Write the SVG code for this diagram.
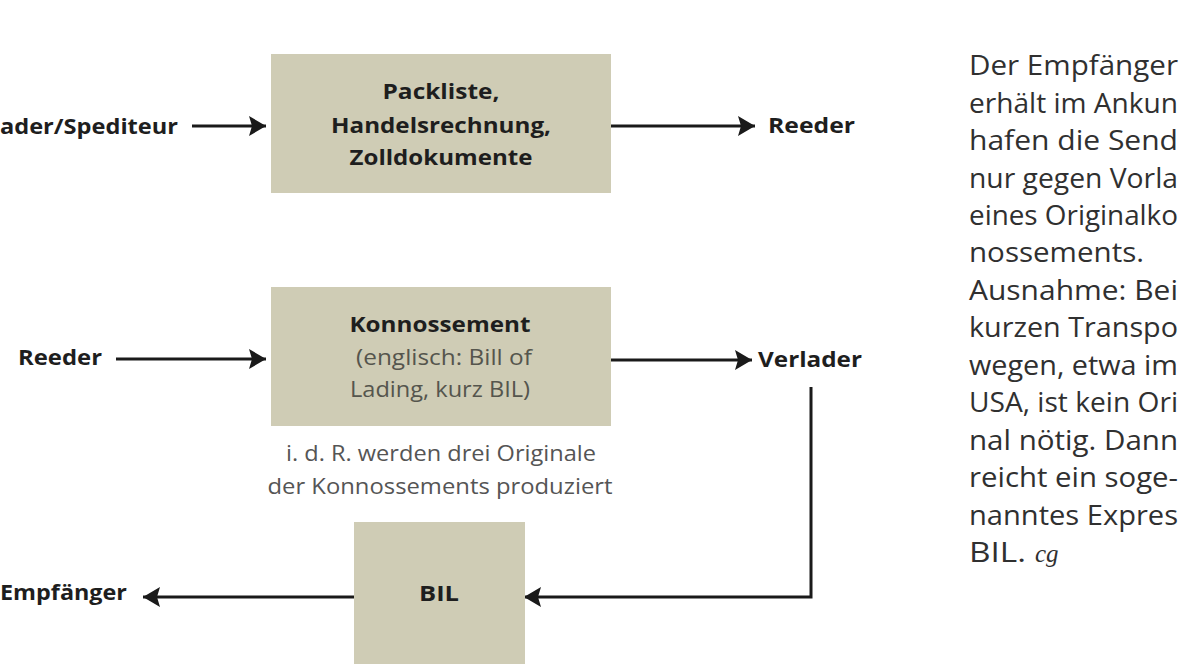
<svg xmlns="http://www.w3.org/2000/svg" width="1180" height="664" viewBox="0 0 1180 664">
<style>
.box{fill:#cfccb5;}
.b{font-family:"Open Sans","Noto Sans",sans-serif;font-weight:bold;font-size:21px;fill:#1e1e1e;}
.r{font-family:"Open Sans","Noto Sans",sans-serif;font-size:21px;fill:#55554d;}
.cap{font-family:"Open Sans","Noto Sans",sans-serif;font-size:21px;fill:#555;}
.side{font-family:"Open Sans","Noto Sans",sans-serif;font-size:27px;fill:#303030;}
.line{stroke:#1a1a1a;stroke-width:3;fill:none;}
</style>
<defs>
<marker id="ah" markerUnits="userSpaceOnUse" markerWidth="20" markerHeight="24" refX="17" refY="12" orient="auto">
<path d="M0,2 L17,12 L0,22 L3,12 Z" fill="#1a1a1a"/>
</marker>
</defs>
<rect width="1180" height="664" fill="#ffffff"/>
<g id="connectors">
<line class="line" x1="192" y1="126" x2="266" y2="126" marker-end="url(#ah)"/>
<line class="line" x1="611" y1="126" x2="755" y2="126" marker-end="url(#ah)"/>
<line class="line" x1="116" y1="359" x2="266" y2="359" marker-end="url(#ah)"/>
<line class="line" x1="611" y1="360" x2="752" y2="360" marker-end="url(#ah)"/>
<polyline class="line" points="811,387 811,597 524,597" marker-end="url(#ah)"/>
<line class="line" x1="354" y1="597" x2="143" y2="597" marker-end="url(#ah)"/>
</g>
<g id="node-verlader-spediteur">
<text class="b" x="0" y="134" textLength="178" lengthAdjust="spacingAndGlyphs">ader/Spediteur</text>
</g>
<g id="node-dokumente">
<rect class="box" x="271" y="54" width="340" height="139"/>
<text class="b" x="441" y="99" text-anchor="middle" textLength="117" lengthAdjust="spacingAndGlyphs">Packliste,</text>
<text class="b" x="441" y="133" text-anchor="middle" textLength="220" lengthAdjust="spacingAndGlyphs">Handelsrechnung,</text>
<text class="b" x="441" y="165" text-anchor="middle" textLength="183" lengthAdjust="spacingAndGlyphs">Zolldokumente</text>
</g>
<g id="node-reeder-1">
<text class="b" x="768" y="133" textLength="87" lengthAdjust="spacingAndGlyphs">Reeder</text>
</g>
<g id="node-reeder-2">
<text class="b" x="18" y="365" textLength="84" lengthAdjust="spacingAndGlyphs">Reeder</text>
</g>
<g id="node-konnossement">
<rect class="box" x="271" y="287" width="340" height="139"/>
<text class="b" x="440" y="332" text-anchor="middle" textLength="181" lengthAdjust="spacingAndGlyphs">Konnossement</text>
<text class="r" x="444" y="365" text-anchor="middle" textLength="176" lengthAdjust="spacingAndGlyphs">(englisch: Bill of</text>
<text class="r" x="440" y="397" text-anchor="middle" textLength="180" lengthAdjust="spacingAndGlyphs">Lading, kurz BIL)</text>
</g>
<g id="caption-konnossement">
<text class="cap" x="441" y="461" text-anchor="middle" textLength="310" lengthAdjust="spacingAndGlyphs">i. d. R. werden drei Originale</text>
<text class="cap" x="440" y="494" text-anchor="middle" textLength="345" lengthAdjust="spacingAndGlyphs">der Konnossements produziert</text>
</g>
<g id="node-verlader">
<text class="b" x="758" y="367" textLength="104" lengthAdjust="spacingAndGlyphs">Verlader</text>
</g>
<g id="node-bil">
<rect class="box" x="354" y="522" width="171" height="142"/>
<text class="b" x="439" y="601" text-anchor="middle" textLength="40" lengthAdjust="spacingAndGlyphs">BIL</text>
</g>
<g id="node-empfaenger">
<text class="b" x="0" y="600" textLength="127" lengthAdjust="spacingAndGlyphs">Empfänger</text>
</g>
<g id="sidebar">
<text class="side" x="969" y="75" textLength="209" lengthAdjust="spacingAndGlyphs">Der Empfänger</text>
<text class="side" x="969" y="112.5" textLength="209" lengthAdjust="spacingAndGlyphs">erhält im Ankun</text>
<text class="side" x="969" y="150" textLength="209" lengthAdjust="spacingAndGlyphs">hafen die Send</text>
<text class="side" x="969" y="187.5" textLength="209" lengthAdjust="spacingAndGlyphs">nur gegen Vorla</text>
<text class="side" x="969" y="225" textLength="209" lengthAdjust="spacingAndGlyphs">eines Originalko</text>
<text class="side" x="969" y="262" textLength="175" lengthAdjust="spacingAndGlyphs">nossements.</text>
<text class="side" x="969" y="300" textLength="209" lengthAdjust="spacingAndGlyphs">Ausnahme: Bei</text>
<text class="side" x="969" y="337" textLength="209" lengthAdjust="spacingAndGlyphs">kurzen Transpo</text>
<text class="side" x="969" y="375" textLength="209" lengthAdjust="spacingAndGlyphs">wegen, etwa im</text>
<text class="side" x="969" y="412" textLength="209" lengthAdjust="spacingAndGlyphs">USA, ist kein Ori</text>
<text class="side" x="969" y="450" textLength="209" lengthAdjust="spacingAndGlyphs">nal nötig. Dann</text>
<text class="side" x="969" y="487" textLength="209" lengthAdjust="spacingAndGlyphs">reicht ein soge-</text>
<text class="side" x="969" y="525" textLength="209" lengthAdjust="spacingAndGlyphs">nanntes Expres</text>
<text class="side" x="969" y="562" textLength="57" lengthAdjust="spacingAndGlyphs">BIL.</text>
<text x="1035" y="562" font-family="'Liberation Serif',serif" font-style="italic" font-size="25" fill="#303030">cg</text>
</g>
</svg>
